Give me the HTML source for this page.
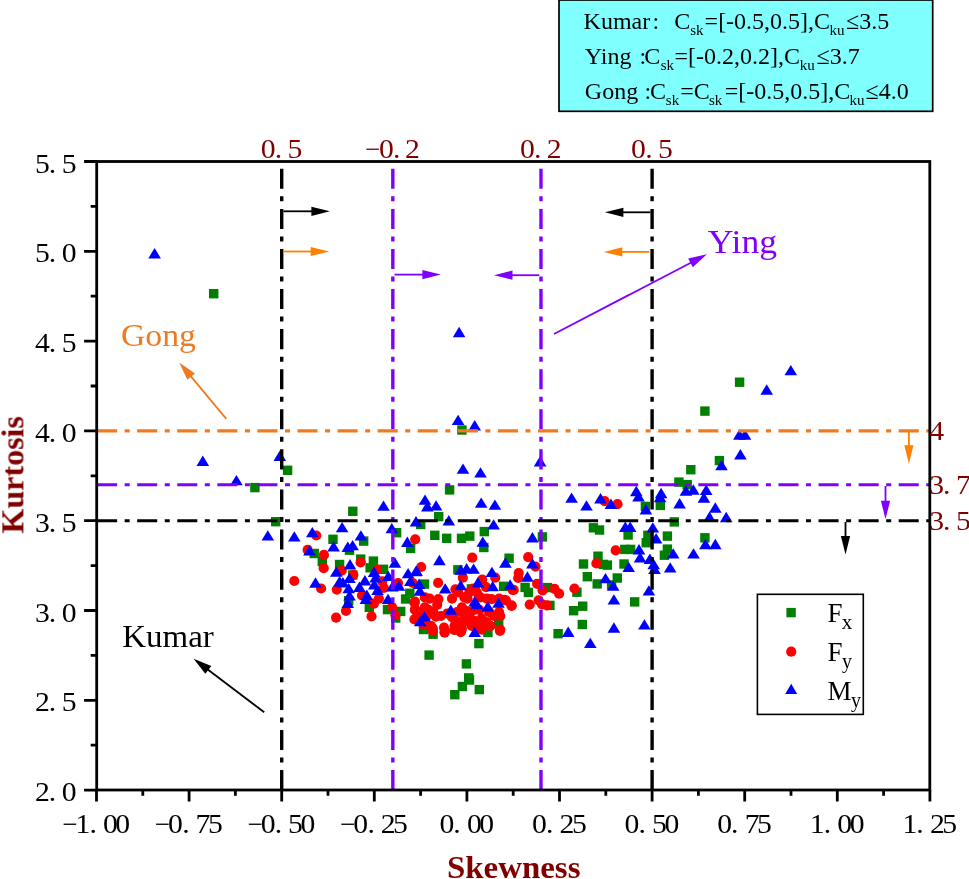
<!DOCTYPE html>
<html><head><meta charset="utf-8"><style>
html,body{margin:0;padding:0;background:#fff;width:969px;height:879px;overflow:hidden}
svg{display:block;font-family:"Liberation Serif",serif;will-change:transform}
</style></head><body>
<svg width="969" height="879" viewBox="0 0 969 879">
<rect x="559" y="0" width="373.7" height="111.3" fill="#80FFFF" stroke="#000" stroke-width="1.7"/>
<g fill="#000">
<text x="583.6" y="29.2" font-size="24">Kumar</text><text x="652.5" y="29.2" font-size="24">:</text><text x="674.2" y="29.2" font-size="24">C</text><text x="690.2" y="35.4" font-size="15">sk</text><text x="704.6" y="29.2" font-size="24">=[-0.5,0.5],C</text><text x="829.6" y="35.4" font-size="15">ku</text><text x="846.0" y="29.2" font-size="24">≤3.5</text>
<text x="584.8" y="63.9" font-size="24">Ying</text><text x="639.6" y="63.9" font-size="24">:</text><text x="644.2" y="63.9" font-size="24">C</text><text x="660.7" y="70.1" font-size="15">sk</text><text x="674.5" y="63.9" font-size="24">=[-0.2,0.2],C</text><text x="799.8" y="70.1" font-size="15">ku</text><text x="816.6" y="63.9" font-size="24">≤3.7</text>
<text x="584.8" y="98.5" font-size="24">Gong</text><text x="644.6" y="98.5" font-size="24">:</text><text x="650.0" y="98.5" font-size="24">C</text><text x="665.8" y="104.7" font-size="15">sk</text><text x="680.2" y="98.5" font-size="24">=C</text><text x="709.0" y="104.7" font-size="15">sk</text><text x="724.8" y="98.5" font-size="24">=[-0.5,0.5],C</text><text x="849.6" y="104.7" font-size="15">ku</text><text x="865.5" y="98.5" font-size="24">≤4.0</text>
</g>
<g fill="#008000"><rect x="209.0" y="289.0" width="9.4" height="9.4"/><rect x="457.2" y="425.3" width="9.4" height="9.4"/><rect x="282.9" y="465.6" width="9.4" height="9.4"/><rect x="348.1" y="506.6" width="9.4" height="9.4"/><rect x="271.0" y="517.0" width="9.4" height="9.4"/><rect x="328.3" y="534.6" width="9.4" height="9.4"/><rect x="359.0" y="536.4" width="9.4" height="9.4"/><rect x="391.9" y="528.0" width="9.4" height="9.4"/><rect x="405.9" y="543.7" width="9.4" height="9.4"/><rect x="309.5" y="548.8" width="9.4" height="9.4"/><rect x="344.8" y="545.5" width="9.4" height="9.4"/><rect x="317.6" y="556.9" width="9.4" height="9.4"/><rect x="334.9" y="559.8" width="9.4" height="9.4"/><rect x="356.0" y="554.4" width="9.4" height="9.4"/><rect x="368.7" y="556.4" width="9.4" height="9.4"/><rect x="365.4" y="563.1" width="9.4" height="9.4"/><rect x="378.8" y="564.6" width="9.4" height="9.4"/><rect x="348.1" y="570.3" width="9.4" height="9.4"/><rect x="344.0" y="596.0" width="9.4" height="9.4"/><rect x="364.6" y="602.6" width="9.4" height="9.4"/><rect x="382.8" y="604.9" width="9.4" height="9.4"/><rect x="391.0" y="613.3" width="9.4" height="9.4"/><rect x="396.0" y="606.7" width="9.4" height="9.4"/><rect x="400.9" y="594.3" width="9.4" height="9.4"/><rect x="405.1" y="588.6" width="9.4" height="9.4"/><rect x="444.9" y="485.2" width="9.4" height="9.4"/><rect x="434.0" y="511.9" width="9.4" height="9.4"/><rect x="416.0" y="519.8" width="9.4" height="9.4"/><rect x="430.1" y="530.6" width="9.4" height="9.4"/><rect x="442.0" y="533.6" width="9.4" height="9.4"/><rect x="456.8" y="533.6" width="9.4" height="9.4"/><rect x="465.1" y="531.4" width="9.4" height="9.4"/><rect x="479.6" y="526.9" width="9.4" height="9.4"/><rect x="537.7" y="532.2" width="9.4" height="9.4"/><rect x="479.1" y="542.8" width="9.4" height="9.4"/><rect x="504.4" y="553.5" width="9.4" height="9.4"/><rect x="453.2" y="565.1" width="9.4" height="9.4"/><rect x="419.8" y="579.4" width="9.4" height="9.4"/><rect x="466.7" y="584.2" width="9.4" height="9.4"/><rect x="470.5" y="585.3" width="9.4" height="9.4"/><rect x="498.9" y="581.6" width="9.4" height="9.4"/><rect x="520.4" y="582.7" width="9.4" height="9.4"/><rect x="523.7" y="587.7" width="9.4" height="9.4"/><rect x="542.7" y="582.9" width="9.4" height="9.4"/><rect x="545.2" y="600.7" width="9.4" height="9.4"/><rect x="474.2" y="638.9" width="9.4" height="9.4"/><rect x="553.4" y="629.0" width="9.4" height="9.4"/><rect x="418.8" y="624.8" width="9.4" height="9.4"/><rect x="428.4" y="629.5" width="9.4" height="9.4"/><rect x="483.2" y="627.8" width="9.4" height="9.4"/><rect x="494.0" y="619.1" width="9.4" height="9.4"/><rect x="714.7" y="455.9" width="9.4" height="9.4"/><rect x="686.1" y="465.0" width="9.4" height="9.4"/><rect x="674.2" y="477.4" width="9.4" height="9.4"/><rect x="682.5" y="479.9" width="9.4" height="9.4"/><rect x="640.7" y="501.7" width="9.4" height="9.4"/><rect x="655.6" y="500.7" width="9.4" height="9.4"/><rect x="669.6" y="517.2" width="9.4" height="9.4"/><rect x="588.7" y="523.1" width="9.4" height="9.4"/><rect x="594.8" y="525.3" width="9.4" height="9.4"/><rect x="623.4" y="530.3" width="9.4" height="9.4"/><rect x="643.2" y="530.6" width="9.4" height="9.4"/><rect x="641.5" y="538.0" width="9.4" height="9.4"/><rect x="662.7" y="531.4" width="9.4" height="9.4"/><rect x="700.2" y="533.1" width="9.4" height="9.4"/><rect x="620.1" y="544.7" width="9.4" height="9.4"/><rect x="625.9" y="544.7" width="9.4" height="9.4"/><rect x="593.3" y="551.5" width="9.4" height="9.4"/><rect x="578.8" y="559.3" width="9.4" height="9.4"/><rect x="598.6" y="559.7" width="9.4" height="9.4"/><rect x="602.7" y="560.4" width="9.4" height="9.4"/><rect x="619.3" y="559.3" width="9.4" height="9.4"/><rect x="659.7" y="550.5" width="9.4" height="9.4"/><rect x="662.7" y="544.4" width="9.4" height="9.4"/><rect x="582.6" y="572.0" width="9.4" height="9.4"/><rect x="592.5" y="579.2" width="9.4" height="9.4"/><rect x="612.6" y="573.3" width="9.4" height="9.4"/><rect x="606.9" y="580.2" width="9.4" height="9.4"/><rect x="572.2" y="587.5" width="9.4" height="9.4"/><rect x="630.0" y="597.2" width="9.4" height="9.4"/><rect x="578.0" y="601.5" width="9.4" height="9.4"/><rect x="568.9" y="606.0" width="9.4" height="9.4"/><rect x="577.6" y="619.8" width="9.4" height="9.4"/><rect x="734.9" y="377.5" width="9.4" height="9.4"/><rect x="700.2" y="406.4" width="9.4" height="9.4"/><rect x="250.2" y="482.9" width="9.4" height="9.4"/><rect x="424.4" y="650.4" width="9.4" height="9.4"/><rect x="461.7" y="659.2" width="9.4" height="9.4"/><rect x="464.0" y="673.2" width="9.4" height="9.4"/><rect x="464.8" y="675.3" width="9.4" height="9.4"/><rect x="457.7" y="681.8" width="9.4" height="9.4"/><rect x="450.1" y="690.0" width="9.4" height="9.4"/><rect x="474.6" y="684.9" width="9.4" height="9.4"/></g><g fill="#FF0000"><circle cx="316.3" cy="535.5" r="5.1"/><circle cx="415.2" cy="539.3" r="5.1"/><circle cx="307.6" cy="549.9" r="5.1"/><circle cx="323.9" cy="554.9" r="5.1"/><circle cx="323.7" cy="568.2" r="5.1"/><circle cx="294.3" cy="581.0" r="5.1"/><circle cx="321.1" cy="588.5" r="5.1"/><circle cx="360.6" cy="562.4" r="5.1"/><circle cx="377.2" cy="569.5" r="5.1"/><circle cx="341.7" cy="570.6" r="5.1"/><circle cx="353.3" cy="574.8" r="5.1"/><circle cx="336.8" cy="589.6" r="5.1"/><circle cx="346.0" cy="610.8" r="5.1"/><circle cx="336.1" cy="617.7" r="5.1"/><circle cx="362.0" cy="595.4" r="5.1"/><circle cx="371.5" cy="616.4" r="5.1"/><circle cx="373.9" cy="603.7" r="5.1"/><circle cx="378.9" cy="598.7" r="5.1"/><circle cx="382.2" cy="581.4" r="5.1"/><circle cx="383.8" cy="588.0" r="5.1"/><circle cx="398.0" cy="583.0" r="5.1"/><circle cx="392.1" cy="607.0" r="5.1"/><circle cx="395.4" cy="615.2" r="5.1"/><circle cx="412.7" cy="583.0" r="5.1"/><circle cx="414.4" cy="602.8" r="5.1"/><circle cx="415.2" cy="609.4" r="5.1"/><circle cx="414.4" cy="619.4" r="5.1"/><circle cx="472.3" cy="557.7" r="5.1"/><circle cx="528.2" cy="557.2" r="5.1"/><circle cx="535.5" cy="566.6" r="5.1"/><circle cx="421.2" cy="567.0" r="5.1"/><circle cx="462.8" cy="577.7" r="5.1"/><circle cx="495.2" cy="577.7" r="5.1"/><circle cx="482.2" cy="579.5" r="5.1"/><circle cx="438.1" cy="582.8" r="5.1"/><circle cx="455.4" cy="589.3" r="5.1"/><circle cx="486.0" cy="587.1" r="5.1"/><circle cx="513.7" cy="589.9" r="5.1"/><circle cx="518.7" cy="573.1" r="5.1"/><circle cx="518.2" cy="578.0" r="5.1"/><circle cx="537.1" cy="583.8" r="5.1"/><circle cx="542.6" cy="590.4" r="5.1"/><circle cx="554.5" cy="588.8" r="5.1"/><circle cx="559.1" cy="593.7" r="5.1"/><circle cx="529.7" cy="604.6" r="5.1"/><circle cx="538.6" cy="600.3" r="5.1"/><circle cx="542.1" cy="604.4" r="5.1"/><circle cx="547.0" cy="605.3" r="5.1"/><circle cx="511.6" cy="605.8" r="5.1"/><circle cx="505.9" cy="600.3" r="5.1"/><circle cx="604.6" cy="501.1" r="5.1"/><circle cx="617.5" cy="504.2" r="5.1"/><circle cx="615.7" cy="550.4" r="5.1"/><circle cx="596.4" cy="563.4" r="5.1"/><circle cx="574.4" cy="588.5" r="5.1"/><circle cx="432.7" cy="630.8" r="5.1"/><circle cx="444.6" cy="632.0" r="5.1"/><circle cx="454.2" cy="630.0" r="5.1"/><circle cx="461.4" cy="630.8" r="5.1"/><circle cx="481.7" cy="629.6" r="5.1"/><circle cx="499.9" cy="630.8" r="5.1"/><circle cx="414.9" cy="601.7" r="5.1"/><circle cx="414.9" cy="609.8" r="5.1"/><circle cx="416.1" cy="618.4" r="5.1"/><circle cx="424.8" cy="597.4" r="5.1"/><circle cx="429.7" cy="598.6" r="5.1"/><circle cx="438.4" cy="599.2" r="5.1"/><circle cx="437.2" cy="604.8" r="5.1"/><circle cx="433.4" cy="612.2" r="5.1"/><circle cx="435.9" cy="616.6" r="5.1"/><circle cx="431.0" cy="625.9" r="5.1"/><circle cx="432.8" cy="628.3" r="5.1"/><circle cx="423.5" cy="624.6" r="5.1"/><circle cx="444.0" cy="627.7" r="5.1"/><circle cx="444.6" cy="632.7" r="5.1"/><circle cx="452.0" cy="598.6" r="5.1"/><circle cx="447.1" cy="613.5" r="5.1"/><circle cx="454.5" cy="625.9" r="5.1"/><circle cx="454.5" cy="629.6" r="5.1"/><circle cx="461.9" cy="628.3" r="5.1"/><circle cx="460.7" cy="632.1" r="5.1"/><circle cx="458.2" cy="592.4" r="5.1"/><circle cx="464.4" cy="597.4" r="5.1"/><circle cx="467.5" cy="598.6" r="5.1"/><circle cx="461.9" cy="607.3" r="5.1"/><circle cx="466.9" cy="611.0" r="5.1"/><circle cx="469.3" cy="614.7" r="5.1"/><circle cx="464.4" cy="617.2" r="5.1"/><circle cx="474.3" cy="620.9" r="5.1"/><circle cx="471.8" cy="625.9" r="5.1"/><circle cx="480.5" cy="597.4" r="5.1"/><circle cx="486.7" cy="598.6" r="5.1"/><circle cx="491.6" cy="599.2" r="5.1"/><circle cx="479.3" cy="609.8" r="5.1"/><circle cx="481.7" cy="618.4" r="5.1"/><circle cx="486.7" cy="622.2" r="5.1"/><circle cx="480.5" cy="627.1" r="5.1"/><circle cx="490.4" cy="625.9" r="5.1"/><circle cx="499.1" cy="598.6" r="5.1"/><circle cx="504.0" cy="599.9" r="5.1"/><circle cx="511.5" cy="605.4" r="5.1"/><circle cx="499.1" cy="612.2" r="5.1"/><circle cx="500.3" cy="616.0" r="5.1"/><circle cx="500.3" cy="629.6" r="5.1"/><circle cx="512.7" cy="590.0" r="5.1"/><circle cx="473.1" cy="588.7" r="5.1"/><circle cx="428.5" cy="609.8" r="5.1"/><circle cx="424.8" cy="607.3" r="5.1"/><circle cx="440.9" cy="616.0" r="5.1"/><circle cx="452.0" cy="617.2" r="5.1"/><circle cx="457.0" cy="612.2" r="5.1"/><circle cx="458.2" cy="622.2" r="5.1"/><circle cx="466.9" cy="620.9" r="5.1"/><circle cx="474.3" cy="609.8" r="5.1"/><circle cx="489.2" cy="612.2" r="5.1"/><circle cx="494.1" cy="616.0" r="5.1"/><circle cx="469.3" cy="592.4" r="5.1"/><circle cx="476.8" cy="592.4" r="5.1"/><circle cx="421.1" cy="613.5" r="5.1"/><circle cx="426.0" cy="617.2" r="5.1"/></g><g fill="#0000FF"><polygon points="154.6,248.0 160.9,258.4 148.3,258.4"/><polygon points="458.1,414.7 464.4,425.1 451.8,425.1"/><polygon points="474.7,420.0 481.0,430.4 468.4,430.4"/><polygon points="279.8,450.6 286.1,461.0 273.5,461.0"/><polygon points="383.5,500.4 389.8,510.8 377.2,510.8"/><polygon points="267.8,530.2 274.1,540.6 261.5,540.6"/><polygon points="294.3,531.2 300.6,541.6 288.0,541.6"/><polygon points="312.3,526.9 318.6,537.3 306.0,537.3"/><polygon points="342.1,521.9 348.4,532.3 335.8,532.3"/><polygon points="360.9,530.2 367.2,540.6 354.6,540.6"/><polygon points="391.8,522.9 398.1,533.3 385.5,533.3"/><polygon points="416.0,516.0 422.3,526.4 409.7,526.4"/><polygon points="407.3,536.6 413.6,547.0 401.0,547.0"/><polygon points="309.5,545.0 315.8,555.4 303.2,555.4"/><polygon points="333.6,541.1 339.9,551.5 327.3,551.5"/><polygon points="347.8,541.6 354.1,552.0 341.5,552.0"/><polygon points="352.6,539.9 358.9,550.3 346.3,550.3"/><polygon points="315.5,577.3 321.8,587.7 309.2,587.7"/><polygon points="350.0,559.0 356.3,569.4 343.7,569.4"/><polygon points="394.9,557.3 401.2,567.7 388.6,567.7"/><polygon points="336.3,566.4 342.6,576.8 330.0,576.8"/><polygon points="339.6,576.0 345.9,586.4 333.3,586.4"/><polygon points="349.5,572.7 355.8,583.1 343.2,583.1"/><polygon points="342.9,577.0 349.2,587.4 336.6,587.4"/><polygon points="348.7,582.9 355.0,593.3 342.4,593.3"/><polygon points="349.5,590.2 355.8,600.6 343.2,600.6"/><polygon points="347.8,597.6 354.1,608.0 341.5,608.0"/><polygon points="359.4,581.5 365.7,591.9 353.1,591.9"/><polygon points="364.9,575.0 371.2,585.4 358.6,585.4"/><polygon points="366.8,589.5 373.1,599.9 360.5,599.9"/><polygon points="365.8,593.5 372.1,603.9 359.5,603.9"/><polygon points="374.1,566.6 380.4,577.0 367.8,577.0"/><polygon points="375.6,572.2 381.9,582.6 369.3,582.6"/><polygon points="374.3,579.0 380.6,589.4 368.0,589.4"/><polygon points="377.6,584.6 383.9,595.0 371.3,595.0"/><polygon points="388.3,570.7 394.6,581.1 382.0,581.1"/><polygon points="388.0,593.7 394.3,604.1 381.7,604.1"/><polygon points="392.4,581.1 398.7,591.5 386.1,591.5"/><polygon points="398.9,580.3 405.2,590.7 392.6,590.7"/><polygon points="408.1,567.9 414.4,578.3 401.8,578.3"/><polygon points="410.3,575.7 416.6,586.1 404.0,586.1"/><polygon points="416.0,565.8 422.3,576.2 409.7,576.2"/><polygon points="463.0,463.4 469.3,473.8 456.7,473.8"/><polygon points="480.5,467.2 486.8,477.6 474.2,477.6"/><polygon points="540.1,456.1 546.4,466.5 533.8,466.5"/><polygon points="425.0,494.4 431.3,504.8 418.7,504.8"/><polygon points="427.3,501.0 433.6,511.4 421.0,511.4"/><polygon points="436.1,500.2 442.4,510.6 429.8,510.6"/><polygon points="481.2,497.4 487.5,507.8 474.9,507.8"/><polygon points="494.9,499.4 501.2,509.8 488.6,509.8"/><polygon points="448.8,515.1 455.1,525.5 442.5,525.5"/><polygon points="493.6,519.2 499.9,529.6 487.3,529.6"/><polygon points="482.8,536.4 489.1,546.8 476.5,546.8"/><polygon points="532.4,532.1 538.7,542.5 526.1,542.5"/><polygon points="439.4,554.8 445.7,565.2 433.1,565.2"/><polygon points="505.4,557.3 511.7,567.7 499.1,567.7"/><polygon points="532.4,558.1 538.7,568.5 526.1,568.5"/><polygon points="416.6,565.6 422.9,576.0 410.3,576.0"/><polygon points="460.7,564.4 467.0,574.8 454.4,574.8"/><polygon points="466.6,563.1 472.9,573.5 460.3,573.5"/><polygon points="473.6,563.4 479.9,573.8 467.3,573.8"/><polygon points="491.9,566.7 498.2,577.1 485.6,577.1"/><polygon points="419.1,578.6 425.4,589.0 412.8,589.0"/><polygon points="419.9,585.4 426.2,595.8 413.6,595.8"/><polygon points="445.2,583.2 451.5,593.6 438.9,593.6"/><polygon points="460.7,579.9 467.0,590.3 454.4,590.3"/><polygon points="477.9,577.1 484.2,587.5 471.6,587.5"/><polygon points="492.7,580.9 499.0,591.3 486.4,591.3"/><polygon points="510.1,579.3 516.4,589.7 503.8,589.7"/><polygon points="527.4,571.3 533.7,581.7 521.1,581.7"/><polygon points="498.5,597.4 504.8,607.8 492.2,607.8"/><polygon points="474.7,596.1 481.0,606.5 468.4,606.5"/><polygon points="476.9,598.8 483.2,609.2 470.6,609.2"/><polygon points="487.8,601.1 494.1,611.5 481.5,611.5"/><polygon points="450.8,604.4 457.1,614.8 444.5,614.8"/><polygon points="424.4,611.0 430.7,621.4 418.1,621.4"/><polygon points="420.2,615.9 426.5,626.3 413.9,626.3"/><polygon points="474.7,626.7 481.0,637.1 468.4,637.1"/><polygon points="568.2,626.5 574.5,636.9 561.9,636.9"/><polygon points="721.5,459.9 727.8,470.3 715.2,470.3"/><polygon points="685.9,485.3 692.2,495.7 679.6,495.7"/><polygon points="693.3,484.3 699.6,494.7 687.0,494.7"/><polygon points="706.2,484.5 712.5,494.9 699.9,494.9"/><polygon points="703.9,492.3 710.2,502.7 697.6,502.7"/><polygon points="571.6,492.4 577.9,502.8 565.3,502.8"/><polygon points="586.5,500.2 592.8,510.6 580.2,510.6"/><polygon points="600.5,493.1 606.8,503.5 594.2,503.5"/><polygon points="610.9,498.5 617.2,508.9 604.6,508.9"/><polygon points="636.3,485.8 642.6,496.2 630.0,496.2"/><polygon points="638.5,491.1 644.8,501.5 632.2,501.5"/><polygon points="645.9,504.0 652.2,514.4 639.6,514.4"/><polygon points="661.1,487.8 667.4,498.2 654.8,498.2"/><polygon points="660.1,491.8 666.4,502.2 653.8,502.2"/><polygon points="679.6,498.0 685.9,508.4 673.3,508.4"/><polygon points="715.3,502.3 721.6,512.7 709.0,512.7"/><polygon points="709.5,511.6 715.8,522.0 703.2,522.0"/><polygon points="625.3,521.5 631.6,531.9 619.0,531.9"/><polygon points="630.2,521.5 636.5,531.9 623.9,531.9"/><polygon points="652.8,522.2 659.1,532.6 646.5,532.6"/><polygon points="656.1,533.1 662.4,543.5 649.8,543.5"/><polygon points="705.4,538.8 711.7,549.2 699.1,549.2"/><polygon points="715.3,538.8 721.6,549.2 709.0,549.2"/><polygon points="639.0,544.0 645.3,554.4 632.7,554.4"/><polygon points="640.1,552.1 646.4,562.5 633.8,562.5"/><polygon points="628.7,561.7 635.0,572.1 622.4,572.1"/><polygon points="649.9,553.5 656.2,563.9 643.6,563.9"/><polygon points="653.7,558.9 660.0,569.3 647.4,569.3"/><polygon points="654.5,563.7 660.8,574.1 648.2,574.1"/><polygon points="673.2,548.2 679.5,558.6 666.9,558.6"/><polygon points="670.2,562.2 676.5,572.6 663.9,572.6"/><polygon points="693.5,548.2 699.8,558.6 687.2,558.6"/><polygon points="605.5,572.9 611.8,583.3 599.2,583.3"/><polygon points="613.2,580.4 619.5,590.8 606.9,590.8"/><polygon points="648.9,585.2 655.2,595.6 642.6,595.6"/><polygon points="613.9,594.2 620.2,604.6 607.6,604.6"/><polygon points="613.9,622.3 620.2,632.7 607.6,632.7"/><polygon points="644.4,619.2 650.7,629.6 638.1,629.6"/><polygon points="590.3,637.7 596.6,648.1 584.0,648.1"/><polygon points="790.8,364.9 797.1,375.3 784.5,375.3"/><polygon points="766.7,384.3 773.0,394.7 760.4,394.7"/><polygon points="739.4,429.3 745.7,439.7 733.1,439.7"/><polygon points="745.0,429.3 751.3,439.7 738.7,439.7"/><polygon points="740.4,449.0 746.7,459.4 734.1,459.4"/><polygon points="726.2,511.8 732.5,522.2 719.9,522.2"/><polygon points="202.8,455.6 209.1,466.0 196.5,466.0"/><polygon points="236.4,474.9 242.7,485.3 230.1,485.3"/><polygon points="459.1,326.8 465.4,337.2 452.8,337.2"/></g>
<line x1="281.70" y1="161.5" x2="281.70" y2="790" stroke="#000" stroke-width="3.4" stroke-dasharray="20.04 7.52 5.01 7.51" stroke-dashoffset="32.78"/>
<line x1="392.82" y1="161.5" x2="392.82" y2="790" stroke="#8000FF" stroke-width="3.4" stroke-dasharray="20.04 7.52 5.01 7.51" stroke-dashoffset="32.78"/>
<line x1="540.98" y1="161.5" x2="540.98" y2="790" stroke="#8000FF" stroke-width="3.4" stroke-dasharray="20.04 7.52 5.01 7.51" stroke-dashoffset="32.78"/>
<line x1="652.10" y1="161.5" x2="652.10" y2="790" stroke="#000" stroke-width="3.4" stroke-dasharray="20.04 7.52 5.01 7.51" stroke-dashoffset="32.78"/>
<line x1="97.1" y1="430.90" x2="929.8" y2="430.90" stroke="#EE7B22" stroke-width="3.1" stroke-dasharray="20.04 7.52 5.01 7.51"/>
<line x1="97.1" y1="484.78" x2="929.8" y2="484.78" stroke="#8000FF" stroke-width="3.1" stroke-dasharray="20.04 7.52 5.01 7.51"/>
<line x1="97.1" y1="520.70" x2="929.8" y2="520.70" stroke="#000" stroke-width="3.1" stroke-dasharray="20.04 7.52 5.01 7.51"/>
<rect x="96.7" y="161.5" width="833.1" height="628.5" fill="none" stroke="#000" stroke-width="2.8"/>
<path d="M84.1 161.50H96.7 M84.1 251.30H96.7 M84.1 341.10H96.7 M84.1 430.90H96.7 M84.1 520.70H96.7 M84.1 610.50H96.7 M84.1 700.30H96.7 M84.1 790.10H96.7 M90.7 206.40H96.7 M90.7 296.20H96.7 M90.7 386.00H96.7 M90.7 475.80H96.7 M90.7 565.60H96.7 M90.7 655.40H96.7 M90.7 745.20H96.7 M96.50 790V801.5 M189.10 790V801.5 M281.70 790V801.5 M374.30 790V801.5 M466.90 790V801.5 M559.50 790V801.5 M652.10 790V801.5 M744.70 790V801.5 M837.30 790V801.5 M929.90 790V801.5 M142.80 790V795.7 M235.40 790V795.7 M328.00 790V795.7 M420.60 790V795.7 M513.20 790V795.7 M605.80 790V795.7 M698.40 790V795.7 M791.00 790V795.7 M883.60 790V795.7" stroke="#000" stroke-width="2.8" fill="none"/>
<text transform="translate(42.40 172.60) scale(1.1 1)" text-anchor="middle" fill="#000" font-size="27">5</text><text transform="translate(52.50 172.60) scale(1.1 1)" text-anchor="middle" fill="#000" font-size="27">.</text><text transform="translate(69.20 172.60) scale(1.1 1)" text-anchor="middle" fill="#000" font-size="27">5</text>
<text transform="translate(42.40 262.40) scale(1.1 1)" text-anchor="middle" fill="#000" font-size="27">5</text><text transform="translate(52.50 262.40) scale(1.1 1)" text-anchor="middle" fill="#000" font-size="27">.</text><text transform="translate(69.20 262.40) scale(1.1 1)" text-anchor="middle" fill="#000" font-size="27">0</text>
<text transform="translate(42.40 352.20) scale(1.1 1)" text-anchor="middle" fill="#000" font-size="27">4</text><text transform="translate(52.50 352.20) scale(1.1 1)" text-anchor="middle" fill="#000" font-size="27">.</text><text transform="translate(69.20 352.20) scale(1.1 1)" text-anchor="middle" fill="#000" font-size="27">5</text>
<text transform="translate(42.40 442.00) scale(1.1 1)" text-anchor="middle" fill="#000" font-size="27">4</text><text transform="translate(52.50 442.00) scale(1.1 1)" text-anchor="middle" fill="#000" font-size="27">.</text><text transform="translate(69.20 442.00) scale(1.1 1)" text-anchor="middle" fill="#000" font-size="27">0</text>
<text transform="translate(42.40 531.80) scale(1.1 1)" text-anchor="middle" fill="#000" font-size="27">3</text><text transform="translate(52.50 531.80) scale(1.1 1)" text-anchor="middle" fill="#000" font-size="27">.</text><text transform="translate(69.20 531.80) scale(1.1 1)" text-anchor="middle" fill="#000" font-size="27">5</text>
<text transform="translate(42.40 621.60) scale(1.1 1)" text-anchor="middle" fill="#000" font-size="27">3</text><text transform="translate(52.50 621.60) scale(1.1 1)" text-anchor="middle" fill="#000" font-size="27">.</text><text transform="translate(69.20 621.60) scale(1.1 1)" text-anchor="middle" fill="#000" font-size="27">0</text>
<text transform="translate(42.40 711.40) scale(1.1 1)" text-anchor="middle" fill="#000" font-size="27">2</text><text transform="translate(52.50 711.40) scale(1.1 1)" text-anchor="middle" fill="#000" font-size="27">.</text><text transform="translate(69.20 711.40) scale(1.1 1)" text-anchor="middle" fill="#000" font-size="27">5</text>
<text transform="translate(42.40 801.20) scale(1.1 1)" text-anchor="middle" fill="#000" font-size="27">2</text><text transform="translate(52.50 801.20) scale(1.1 1)" text-anchor="middle" fill="#000" font-size="27">.</text><text transform="translate(69.20 801.20) scale(1.1 1)" text-anchor="middle" fill="#000" font-size="27">0</text>
<text transform="translate(69.85 833.30) scale(1 1)" text-anchor="middle" fill="#000" font-size="27">−</text><text transform="translate(82.90 833.30) scale(1.1 1)" text-anchor="middle" fill="#000" font-size="27">1</text><text transform="translate(93.30 833.30) scale(1.1 1)" text-anchor="middle" fill="#000" font-size="27">.</text><text transform="translate(110.30 833.30) scale(1.1 1)" text-anchor="middle" fill="#000" font-size="27">0</text><text transform="translate(122.70 833.30) scale(1.1 1)" text-anchor="middle" fill="#000" font-size="27">0</text>
<text transform="translate(162.45 833.30) scale(1 1)" text-anchor="middle" fill="#000" font-size="27">−</text><text transform="translate(175.50 833.30) scale(1.1 1)" text-anchor="middle" fill="#000" font-size="27">0</text><text transform="translate(185.90 833.30) scale(1.1 1)" text-anchor="middle" fill="#000" font-size="27">.</text><text transform="translate(202.90 833.30) scale(1.1 1)" text-anchor="middle" fill="#000" font-size="27">7</text><text transform="translate(215.30 833.30) scale(1.1 1)" text-anchor="middle" fill="#000" font-size="27">5</text>
<text transform="translate(255.05 833.30) scale(1 1)" text-anchor="middle" fill="#000" font-size="27">−</text><text transform="translate(268.10 833.30) scale(1.1 1)" text-anchor="middle" fill="#000" font-size="27">0</text><text transform="translate(278.50 833.30) scale(1.1 1)" text-anchor="middle" fill="#000" font-size="27">.</text><text transform="translate(295.50 833.30) scale(1.1 1)" text-anchor="middle" fill="#000" font-size="27">5</text><text transform="translate(307.90 833.30) scale(1.1 1)" text-anchor="middle" fill="#000" font-size="27">0</text>
<text transform="translate(347.65 833.30) scale(1 1)" text-anchor="middle" fill="#000" font-size="27">−</text><text transform="translate(360.70 833.30) scale(1.1 1)" text-anchor="middle" fill="#000" font-size="27">0</text><text transform="translate(371.10 833.30) scale(1.1 1)" text-anchor="middle" fill="#000" font-size="27">.</text><text transform="translate(388.10 833.30) scale(1.1 1)" text-anchor="middle" fill="#000" font-size="27">2</text><text transform="translate(400.50 833.30) scale(1.1 1)" text-anchor="middle" fill="#000" font-size="27">5</text>
<text transform="translate(446.80 833.30) scale(1.1 1)" text-anchor="middle" fill="#000" font-size="27">0</text><text transform="translate(457.00 833.30) scale(1.1 1)" text-anchor="middle" fill="#000" font-size="27">.</text><text transform="translate(474.30 833.30) scale(1.1 1)" text-anchor="middle" fill="#000" font-size="27">0</text><text transform="translate(486.70 833.30) scale(1.1 1)" text-anchor="middle" fill="#000" font-size="27">0</text>
<text transform="translate(539.40 833.30) scale(1.1 1)" text-anchor="middle" fill="#000" font-size="27">0</text><text transform="translate(549.60 833.30) scale(1.1 1)" text-anchor="middle" fill="#000" font-size="27">.</text><text transform="translate(566.90 833.30) scale(1.1 1)" text-anchor="middle" fill="#000" font-size="27">2</text><text transform="translate(579.30 833.30) scale(1.1 1)" text-anchor="middle" fill="#000" font-size="27">5</text>
<text transform="translate(632.00 833.30) scale(1.1 1)" text-anchor="middle" fill="#000" font-size="27">0</text><text transform="translate(642.20 833.30) scale(1.1 1)" text-anchor="middle" fill="#000" font-size="27">.</text><text transform="translate(659.50 833.30) scale(1.1 1)" text-anchor="middle" fill="#000" font-size="27">5</text><text transform="translate(671.90 833.30) scale(1.1 1)" text-anchor="middle" fill="#000" font-size="27">0</text>
<text transform="translate(724.60 833.30) scale(1.1 1)" text-anchor="middle" fill="#000" font-size="27">0</text><text transform="translate(734.80 833.30) scale(1.1 1)" text-anchor="middle" fill="#000" font-size="27">.</text><text transform="translate(752.10 833.30) scale(1.1 1)" text-anchor="middle" fill="#000" font-size="27">7</text><text transform="translate(764.50 833.30) scale(1.1 1)" text-anchor="middle" fill="#000" font-size="27">5</text>
<text transform="translate(817.20 833.30) scale(1.1 1)" text-anchor="middle" fill="#000" font-size="27">1</text><text transform="translate(827.40 833.30) scale(1.1 1)" text-anchor="middle" fill="#000" font-size="27">.</text><text transform="translate(844.70 833.30) scale(1.1 1)" text-anchor="middle" fill="#000" font-size="27">0</text><text transform="translate(857.10 833.30) scale(1.1 1)" text-anchor="middle" fill="#000" font-size="27">0</text>
<text transform="translate(909.80 833.30) scale(1.1 1)" text-anchor="middle" fill="#000" font-size="27">1</text><text transform="translate(920.00 833.30) scale(1.1 1)" text-anchor="middle" fill="#000" font-size="27">.</text><text transform="translate(937.30 833.30) scale(1.1 1)" text-anchor="middle" fill="#000" font-size="27">2</text><text transform="translate(949.70 833.30) scale(1.1 1)" text-anchor="middle" fill="#000" font-size="27">5</text>
<text transform="translate(268.10 158.20) scale(1.1 1)" text-anchor="middle" fill="#800000" font-size="27">0</text><text transform="translate(278.50 158.20) scale(1.1 1)" text-anchor="middle" fill="#800000" font-size="27">.</text><text transform="translate(295.00 158.20) scale(1.1 1)" text-anchor="middle" fill="#800000" font-size="27">5</text>
<text transform="translate(372.62 158.20) scale(1 1)" text-anchor="middle" fill="#800000" font-size="27">−</text><text transform="translate(386.52 158.20) scale(1.1 1)" text-anchor="middle" fill="#800000" font-size="27">0</text><text transform="translate(396.82 158.20) scale(1.1 1)" text-anchor="middle" fill="#800000" font-size="27">.</text><text transform="translate(412.52 158.20) scale(1.1 1)" text-anchor="middle" fill="#800000" font-size="27">2</text>
<text transform="translate(527.38 158.20) scale(1.1 1)" text-anchor="middle" fill="#800000" font-size="27">0</text><text transform="translate(537.78 158.20) scale(1.1 1)" text-anchor="middle" fill="#800000" font-size="27">.</text><text transform="translate(554.28 158.20) scale(1.1 1)" text-anchor="middle" fill="#800000" font-size="27">2</text>
<text transform="translate(638.50 158.20) scale(1.1 1)" text-anchor="middle" fill="#800000" font-size="27">0</text><text transform="translate(648.90 158.20) scale(1.1 1)" text-anchor="middle" fill="#800000" font-size="27">.</text><text transform="translate(665.40 158.20) scale(1.1 1)" text-anchor="middle" fill="#800000" font-size="27">5</text>
<text transform="translate(936.60 439.60) scale(1.1 1)" text-anchor="middle" fill="#800000" font-size="27">4</text>
<text transform="translate(936.55 494.00) scale(1.1 1)" text-anchor="middle" fill="#800000" font-size="27">3</text><text transform="translate(946.80 494.00) scale(1.1 1)" text-anchor="middle" fill="#800000" font-size="27">.</text><text transform="translate(963.45 494.00) scale(1.1 1)" text-anchor="middle" fill="#800000" font-size="27">7</text>
<text transform="translate(936.55 530.00) scale(1.1 1)" text-anchor="middle" fill="#800000" font-size="27">3</text><text transform="translate(946.80 530.00) scale(1.1 1)" text-anchor="middle" fill="#800000" font-size="27">.</text><text transform="translate(963.45 530.00) scale(1.1 1)" text-anchor="middle" fill="#800000" font-size="27">5</text>
<line x1="283.50" y1="211.30" x2="313.40" y2="211.30" stroke="#000" stroke-width="1.8"/><polygon points="329.90,211.30 311.40,215.90 311.40,206.70" fill="#000"/>
<line x1="283.50" y1="251.50" x2="312.70" y2="251.50" stroke="#FF8000" stroke-width="1.8"/><polygon points="329.20,251.50 310.70,256.10 310.70,246.90" fill="#FF8000"/>
<line x1="394.50" y1="274.60" x2="424.40" y2="274.60" stroke="#8000FF" stroke-width="1.8"/><polygon points="440.90,274.60 422.40,279.20 422.40,270.00" fill="#8000FF"/>
<line x1="539.30" y1="275.20" x2="510.50" y2="275.20" stroke="#8000FF" stroke-width="1.8"/><polygon points="494.00,275.20 512.50,270.60 512.50,279.80" fill="#8000FF"/>
<line x1="650.40" y1="212.30" x2="621.40" y2="212.30" stroke="#000" stroke-width="1.8"/><polygon points="604.90,212.30 623.40,207.70 623.40,216.90" fill="#000"/>
<line x1="649.20" y1="251.90" x2="620.30" y2="251.90" stroke="#FF8000" stroke-width="1.8"/><polygon points="603.80,251.90 622.30,247.30 622.30,256.50" fill="#FF8000"/>
<line x1="908.90" y1="432.00" x2="908.90" y2="447.20" stroke="#FF8000" stroke-width="1.8"/><polygon points="908.90,463.70 904.30,445.20 913.50,445.20" fill="#FF8000"/>
<line x1="885.50" y1="486.00" x2="885.50" y2="502.70" stroke="#8000FF" stroke-width="1.8"/><polygon points="885.50,519.20 880.90,500.70 890.10,500.70" fill="#8000FF"/>
<line x1="845.50" y1="522.00" x2="845.50" y2="538.10" stroke="#000" stroke-width="1.8"/><polygon points="845.50,554.60 840.90,536.10 850.10,536.10" fill="#000"/>
<line x1="554.00" y1="334.00" x2="692.27" y2="261.93" stroke="#8000FF" stroke-width="1.8"/><polygon points="706.90,254.30 692.81,267.29 688.18,258.42" fill="#8000FF"/>
<line x1="226.30" y1="418.90" x2="189.85" y2="375.08" stroke="#EE7B22" stroke-width="1.8"/><polygon points="179.30,362.40 194.97,373.42 187.29,379.82" fill="#EE7B22"/>
<line x1="264.20" y1="712.20" x2="206.75" y2="668.67" stroke="#000" stroke-width="1.8"/><polygon points="193.60,658.70 211.36,665.89 205.32,673.86" fill="#000"/>
<text x="707.8" y="252.8" font-size="33" fill="#8000FF" textLength="69.2" lengthAdjust="spacingAndGlyphs">Ying</text>
<text x="120.9" y="345.9" font-size="32.5" fill="#EE7B22" textLength="75" lengthAdjust="spacingAndGlyphs">Gong</text>
<text x="122.2" y="647.2" font-size="32.2" fill="#000" textLength="91.6" lengthAdjust="spacingAndGlyphs">Kumar</text>
<text x="513.7" y="877.5" font-size="32" font-weight="bold" text-anchor="middle" fill="#800000" textLength="133.5" lengthAdjust="spacingAndGlyphs">Skewness</text>
<text transform="translate(23.4 474.8) rotate(-90)" font-size="32" font-weight="bold" text-anchor="middle" fill="#800000">Kurtosis</text>
<rect x="757.4" y="594.3" width="105.9" height="120.1" fill="#fff" stroke="#000" stroke-width="1.6"/>
<rect fill="#008000" x="786.4" y="607.9" width="9.4" height="9.4"/><circle fill="#FF0000" cx="791.2" cy="651.7" r="5.1"/><polygon fill="#0000FF" points="791.2,683.8 797.2,694.0 785.2,694.0"/>
<text x="827.6" y="621.8" font-size="27">F</text><text x="841.8" y="629.4" font-size="21">x</text>
<text x="827.6" y="661.1" font-size="27">F</text><text x="842.0" y="667.6" font-size="20">y</text>
<text x="827.6" y="700.0" font-size="27">M</text><text x="851.0" y="706.5" font-size="20">y</text>
</svg>
</body></html>
